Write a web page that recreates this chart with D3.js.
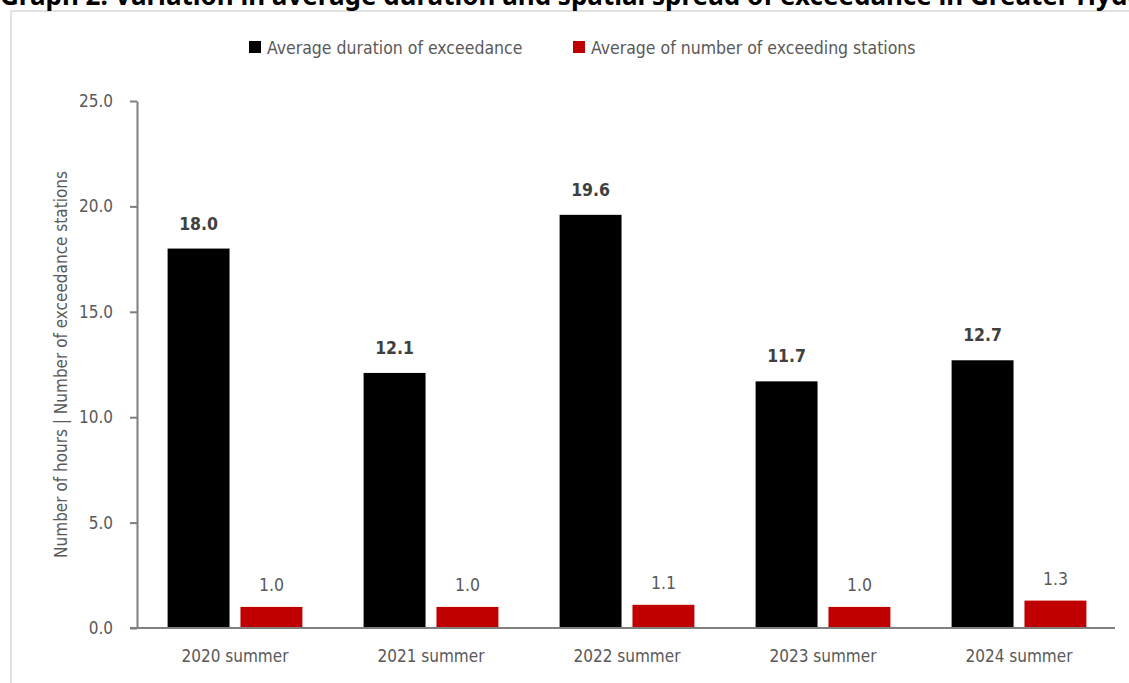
<!DOCTYPE html>
<html>
<head>
<meta charset="utf-8">
<script src="https://cdn.jsdelivr.net/npm/d3@7/dist/d3.min.js"></script>
<style>
  html, body { margin: 0; padding: 0; background: #fff; }
  svg { display: block; }
  .cond { font-family: "DejaVu Sans Condensed", "DejaVu Sans", sans-serif; font-stretch: condensed; }
</style>
</head>
<body>
<svg id="chart" width="1129" height="683"></svg>
<script>
// Chart data
const categories = ["2020 summer", "2021 summer", "2022 summer", "2023 summer", "2024 summer"];
const seriesNames = ["Average duration of exceedance", "Average of number of exceeding stations"];
const durationValues = [18.0, 12.1, 19.6, 11.7, 12.7];
const stationValues = [1.0, 1.0, 1.1, 1.0, 1.3];
const yTicks = [0, 5, 10, 15, 20, 25];
const titleText = "Graph 2: Variation in average duration and spatial spread of exceedance in Greater Hyderabad";
const yAxisTitle = "Number of hours | Number of exceedance stations";

const seriesColors = ["#000000", "#C00000"];
const seriesValues = [durationValues, stationValues];

const svg = d3.select("#chart");
const W = 1129, H = 683;
const plot = { left: 137, right: 1117, top: 101, bottom: 628 };

// Frame around the chart area
svg.append("rect")
  .attr("x", 11).attr("y", 11)
  .attr("width", W + 20).attr("height", H + 20)
  .attr("fill", "#fff").attr("stroke", "#d9d9d9").attr("stroke-width", 1.5);

// Heading (runs past the top edge of the page)
svg.append("text")
  .attr("x", 0).attr("y", 5)
  .attr("font-family", "'Noto Sans', 'DejaVu Sans', sans-serif")
  .attr("font-weight", "bold")
  .attr("font-size", 26)
  .attr("fill", "#000")
  .text(titleText);

const x0 = d3.scaleBand().domain(categories).range([plot.left, plot.right]).padding(0);
const x1 = d3.scaleBand().domain(seriesNames).range([0, x0.bandwidth()])
  .paddingInner(0.15).paddingOuter(0.42);
const y = d3.scaleLinear().domain([0, 25]).range([plot.bottom, plot.top]);

// Bars
const groups = svg.append("g").selectAll("g")
  .data(categories)
  .join("g")
  .attr("transform", d => `translate(${x0(d)},0)`);

groups.selectAll("rect")
  .data((c, i) => seriesNames.map((s, k) => ({ s, k, v: seriesValues[k][i] })))
  .join("rect")
  .attr("x", d => x1(d.s))
  .attr("width", x1.bandwidth())
  .attr("y", d => y(d.v))
  .attr("height", d => y(0) - y(d.v))
  .attr("fill", d => seriesColors[d.k]);

// Value labels
groups.selectAll("text.val")
  .data((c, i) => seriesNames.map((s, k) => ({ s, k, v: seriesValues[k][i] })))
  .join("text")
  .attr("class", "val cond")
  .attr("x", d => x1(d.s) + x1.bandwidth() / 2)
  .attr("y", d => y(d.v) - (d.k === 0 ? 19 : 16))
  .attr("text-anchor", "middle")
  .attr("font-size", 17.5)
  .attr("font-weight", d => d.k === 0 ? "bold" : "normal")
  .attr("fill", d => d.k === 0 ? "#404040" : "#595959")
  .text(d => d.v.toFixed(1));

// Y axis
const yAxis = svg.append("g")
  .attr("transform", `translate(${plot.left},0)`)
  .call(d3.axisLeft(y).tickValues(yTicks).tickFormat(d3.format(".1f"))
    .tickSize(7).tickSizeOuter(0).tickPadding(17));
yAxis.select(".domain").attr("stroke", "#7f7f7f").attr("stroke-width", 2);
yAxis.selectAll(".tick line").attr("stroke", "#7f7f7f").attr("stroke-width", 2);
yAxis.selectAll(".tick text")
  .attr("class", "cond")
  .attr("font-size", 17)
  .attr("fill", "#595959");

// X axis
const xAxis = svg.append("g")
  .attr("transform", `translate(0,${plot.bottom})`)
  .call(d3.axisBottom(x0).tickSize(0).tickPadding(22));
xAxis.select(".domain").attr("d", `M${plot.left - 7},0H${plot.right - 2}`)
  .attr("stroke", "#7f7f7f").attr("stroke-width", 2);
xAxis.selectAll(".tick text")
  .attr("class", "cond")
  .attr("font-size", 17)
  .attr("fill", "#595959");

// Y axis title
svg.append("text")
  .attr("class", "cond")
  .attr("transform", `translate(67,${(plot.top + plot.bottom) / 2}) rotate(-90)`)
  .attr("text-anchor", "middle")
  .attr("font-size", 17)
  .attr("fill", "#595959")
  .text(yAxisTitle);

// Legend
const legendX = [249, 573];
const legend = svg.append("g");
seriesNames.forEach((s, k) => {
  legend.append("rect")
    .attr("x", legendX[k]).attr("y", 41)
    .attr("width", 12).attr("height", 12)
    .attr("fill", seriesColors[k]);
  legend.append("text")
    .attr("class", "cond")
    .attr("x", legendX[k] + 18).attr("y", 54)
    .attr("font-size", 17.5)
    .attr("fill", "#595959")
    .text(s);
});
</script>
</body>
</html>
